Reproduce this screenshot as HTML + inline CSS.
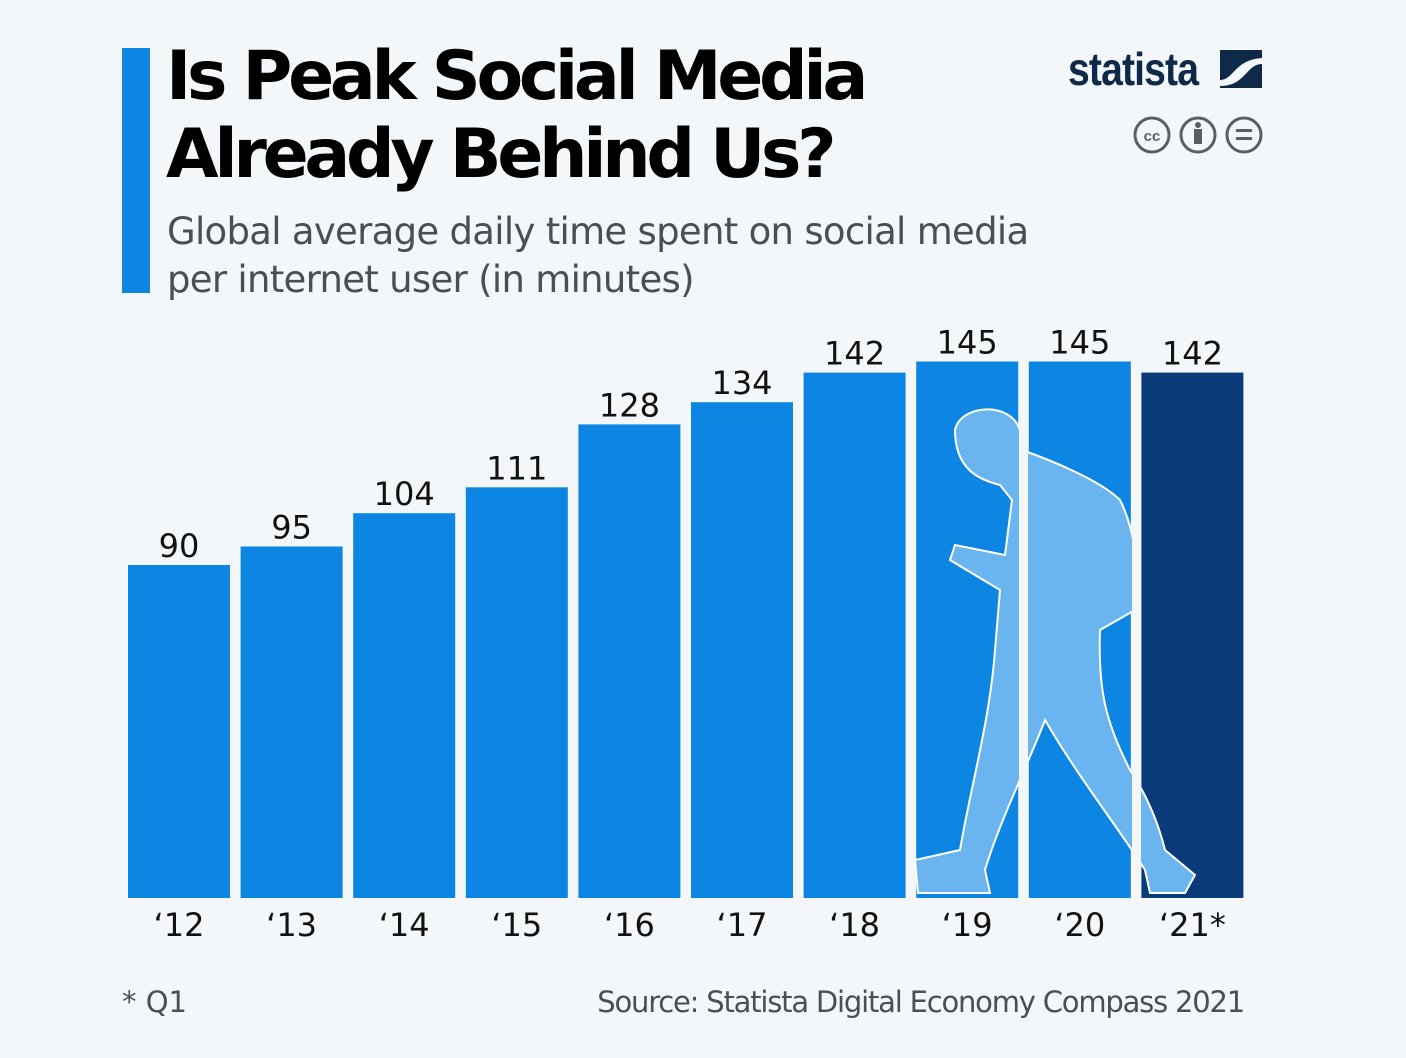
<!DOCTYPE html>
<html><head><meta charset="utf-8"><style>
html,body{margin:0;padding:0;background:#f3f7fa;}
body{width:1406px;height:1058px;position:relative;overflow:hidden;font-family:"Liberation Sans","DejaVu Sans",sans-serif;}
.t{position:absolute;}
</style></head><body>
<div class="t" style="left:122px;top:48px;width:28px;height:245px;background:#0c85e3"></div>
<div class="t" style="left:166px;top:38px;font-size:68px;font-weight:bold;line-height:78px;color:#000;font-family:'DejaVu Sans',sans-serif;letter-spacing:-4.3px">Is Peak Social Media<br>Already Behind Us?</div>
<div class="t" style="left:167px;top:208px;font-size:37px;line-height:48px;color:#4a4f55;font-family:'DejaVu Sans',sans-serif;letter-spacing:-0.7px">Global average daily time spent on social media<br>per internet user (in minutes)</div>
<div class="t" style="left:1068px;top:42px;font-size:46px;font-weight:bold;color:#0f2a48;letter-spacing:-1px;transform:scaleX(0.85);transform-origin:left">statista</div>
<svg class="t" style="left:1220px;top:50px" width="42" height="38"><rect width="42" height="38" fill="#0f2a48"/><path d="M0 30 C14 30 14 10 42 8 L42 0 L42 14 C26 14 26 36 0 36Z" fill="#f3f7fa"/></svg>
<svg class="t" style="left:1130px;top:115px" width="136" height="40">
<g fill="none" stroke="#5a5f66" stroke-width="3"><circle cx="22" cy="20" r="17"/><circle cx="68" cy="20" r="17"/><circle cx="114" cy="20" r="17"/></g>
<text x="22" y="26" font-size="15" font-weight="bold" text-anchor="middle" fill="#5a5f66" font-family="Liberation Sans">cc</text>
<circle cx="68" cy="10" r="3" fill="#5a5f66"/><rect x="64" y="14" width="8" height="15" fill="#5a5f66"/>
<rect x="106" y="14" width="16" height="3" fill="#5a5f66"/><rect x="106" y="22" width="16" height="3" fill="#5a5f66"/>
</svg>
<svg id="chart" class="t" style="left:0;top:0" width="1406" height="1058"></svg>
<div class="t" style="left:122px;top:985px;font-size:29px;color:#4a4f55;font-family:'DejaVu Sans',sans-serif">* Q1</div>
<div class="t" style="right:162px;top:985px;font-size:29px;color:#4a4f55;font-family:'DejaVu Sans',sans-serif;letter-spacing:-1.2px">Source: Statista Digital Economy Compass 2021</div>
<script>
const categories=["‘12","‘13","‘14","‘15","‘16","‘17","‘18","‘19","‘20","‘21*"];
const values=[90,95,104,111,128,134,142,145,145,142];
const svg=document.getElementById('chart');
const NS='http://www.w3.org/2000/svg';
const x0=128,pitch=112.6,bw=102,base=898,scale=3.7;
const xPos=i=>x0+i*pitch;
const yPos=v=>base-v*scale;
function mk(t,a){const e=document.createElementNS(NS,t);for(const k in a)e.setAttribute(k,a[k]);svg.appendChild(e);return e;}
values.forEach((v,i)=>{
 const r=mk('rect',{x:xPos(i),y:yPos(v),width:bw,height:base-yPos(v),fill:i===values.length-1?'#0a3a7a':'#0c85e3'});
 
 
 const t=mk('text',{x:xPos(i)+bw/2,y:yPos(v)-8,'text-anchor':'middle','font-size':32,fill:'#111','font-family':'DejaVu Sans, sans-serif'});
 t.textContent=v;
 
 
 const c=mk('text',{x:xPos(i)+bw/2,y:936,'text-anchor':'middle','font-size':32,fill:'#111','font-family':'DejaVu Sans, sans-serif'});
 c.textContent=categories[i];
 
 
});
const p=mk('path',{d:'M955 430 C960 405 1010 400 1020 430 L1022 450 C1050 460 1100 480 1120 500 C1135 530 1140 570 1135 610 L1100 630 C1098 690 1105 720 1130 770 C1150 800 1160 830 1165 850 L1195 875 L1185 893 L1150 893 L1145 870 C1120 830 1080 780 1045 720 C1030 760 1000 820 985 870 L990 893 L918 893 L915 860 L960 850 C970 790 990 720 995 650 L1000 590 L975 575 L950 560 L955 545 L980 550 L1005 555 L1012 500 L1000 485 C980 480 955 470 955 430Z',fill:'#6ab5ef',stroke:'#fff','stroke-width':2});


const g=mk('rect',{x:1019,y:355,width:9,height:545,fill:'#f3f7fa'});


const g2=mk('rect',{x:1132,y:355,width:9,height:545,fill:'#f3f7fa'});


</script>
</body></html>
